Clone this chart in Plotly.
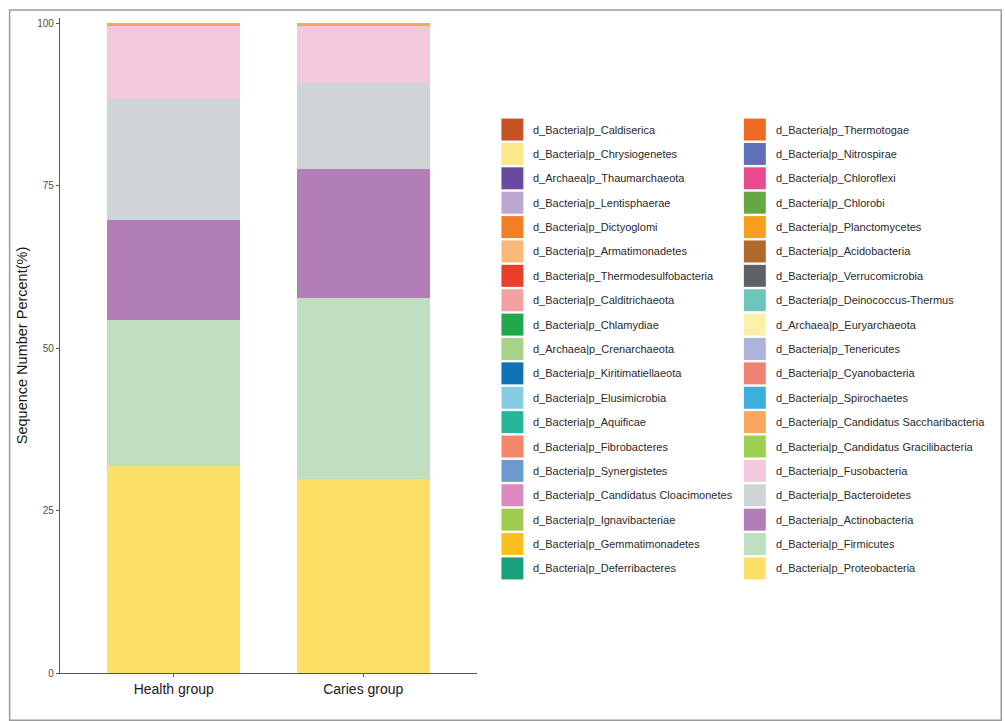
import plotly.graph_objects as go

groups = ["Health group", "Caries group"]

# Legend order (column-major, 2 columns of 19); stacking goes bottom-up in reverse order
taxa = [
    "d_Bacteria|p_Caldiserica", "d_Bacteria|p_Chrysiogenetes", "d_Archaea|p_Thaumarchaeota",
    "d_Bacteria|p_Lentisphaerae", "d_Bacteria|p_Dictyoglomi", "d_Bacteria|p_Armatimonadetes",
    "d_Bacteria|p_Thermodesulfobacteria", "d_Bacteria|p_Calditrichaeota", "d_Bacteria|p_Chlamydiae",
    "d_Archaea|p_Crenarchaeota", "d_Bacteria|p_Kiritimatiellaeota", "d_Bacteria|p_Elusimicrobia",
    "d_Bacteria|p_Aquificae", "d_Bacteria|p_Fibrobacteres", "d_Bacteria|p_Synergistetes",
    "d_Bacteria|p_Candidatus Cloacimonetes", "d_Bacteria|p_Ignavibacteriae",
    "d_Bacteria|p_Gemmatimonadetes", "d_Bacteria|p_Deferribacteres",
    "d_Bacteria|p_Thermotogae", "d_Bacteria|p_Nitrospirae", "d_Bacteria|p_Chloroflexi",
    "d_Bacteria|p_Chlorobi", "d_Bacteria|p_Planctomycetes", "d_Bacteria|p_Acidobacteria",
    "d_Bacteria|p_Verrucomicrobia", "d_Bacteria|p_Deinococcus-Thermus", "d_Archaea|p_Euryarchaeota",
    "d_Bacteria|p_Tenericutes", "d_Bacteria|p_Cyanobacteria", "d_Bacteria|p_Spirochaetes",
    "d_Bacteria|p_Candidatus Saccharibacteria", "d_Bacteria|p_Candidatus Gracilibacteria",
    "d_Bacteria|p_Fusobacteria", "d_Bacteria|p_Bacteroidetes", "d_Bacteria|p_Actinobacteria",
    "d_Bacteria|p_Firmicutes", "d_Bacteria|p_Proteobacteria",
]

colors = [
    "#C65127", "#FBE88B", "#6A4AA0", "#BBA7CF", "#F07F27", "#F8B87A", "#E8402B", "#F4A1A3",
    "#21A84A", "#A6D28A", "#0F72B3", "#86CCE3", "#27B59A", "#F3866A", "#6D9ACC", "#DB89C0",
    "#A1CB4E", "#FCC01E", "#17A07A",
    "#EE6A24", "#6070B6", "#E84B8F", "#63A845", "#F6A01D", "#B0692B", "#5D6266", "#6CC6BC",
    "#FBF0A8", "#AEB3DC", "#F08474", "#3BAEDB", "#F9A660", "#9ECF4E", "#F2C8DB", "#CFD4D6",
    "#B27EB7", "#BFDFC0", "#FEE066",
]

# Percent values per taxon (same order as taxa); the rarest phyla are too small to see (~0)
health = [
    0, 0, 0, 0, 0, 0, 0, 0, 0, 0, 0, 0, 0, 0, 0, 0, 0, 0, 0,
    0, 0, 0, 0, 0, 0, 0, 0, 0, 0, 0,
    0, 0.26, 0.24, 11.2, 18.7, 15.4, 22.4, 31.9,
]
caries = [
    0, 0, 0, 0, 0, 0, 0, 0, 0, 0, 0, 0, 0, 0, 0, 0, 0, 0, 0,
    0, 0, 0, 0, 0, 0, 0, 0, 0, 0, 0,
    0, 0.27, 0.23, 8.8, 13.3, 19.8, 27.9, 29.8,
]

y_ticks = [0, 25, 50, 75, 100]

W, H = 1005, 721
L, R, T, B = 59.5, 527.5, 18, 48.3
pw, ph = W - L - R, H - T - B


def px(x):
    return (x - L) / pw


def py(y):
    return (H - B - y) / ph


fig = go.Figure()
for i in reversed(range(len(taxa))):
    fig.add_trace(go.Bar(
        x=groups, y=[health[i], caries[i]], name=taxa[i],
        marker=dict(color=colors[i], line=dict(width=0)),
        showlegend=False,
    ))

# Custom two-column legend with large square keys
rows = 19
pitch = 24.37
first_c = 129.5
col_key_x = [502, 745]
col_txt_x = [532, 775]
shapes = []
annotations = []
for i, name in enumerate(taxa):
    col, row = divmod(i, rows)
    cy = first_c + row * pitch
    kx = col_key_x[col]
    shapes.append(dict(type="rect", xref="paper", yref="paper",
                       x0=px(kx), x1=px(kx + 22), y0=py(cy - 11), y1=py(cy + 11),
                       fillcolor=colors[i], line=dict(width=0)))
    annotations.append(dict(xref="paper", yref="paper", x=px(col_txt_x[col]), y=py(cy),
                            text=name, showarrow=False, xanchor="left", yanchor="middle",
                            font=dict(family="Liberation Sans, Arial", size=11, color="#2a2a2a")))

# outer frame
shapes.append(dict(type="rect", xref="paper", yref="paper",
                   x0=px(9), x1=px(1003), y0=py(720), y1=py(10),
                   line=dict(color="#9A9A9A", width=1.5), fillcolor="rgba(0,0,0,0)", layer="below"))

fig.update_layout(
    width=W, height=H, autosize=False,
    margin=dict(l=L, r=R, t=T, b=B, pad=0),
    barmode="stack", bargap=0.3,
    plot_bgcolor="white", paper_bgcolor="white",
    font=dict(family="Liberation Sans, Arial", color="#1a1a1a"),
    shapes=shapes, annotations=annotations,
    xaxis=dict(range=[-0.6, 1.6], showline=True, linecolor="#555555", linewidth=1.3,
               ticks="outside", ticklen=3, tickcolor="#555555", showgrid=False,
               tickfont=dict(size=14, color="#1a1a1a"), zeroline=False),
    yaxis=dict(range=[0, 100.8], tickvals=y_ticks, ticktext=[str(v) for v in y_ticks],
               showline=True, linecolor="#555555", linewidth=1.3,
               ticks="outside", ticklen=3, tickcolor="#555555", showgrid=False,
               zeroline=False, tickfont=dict(size=10, color="#4d4d4d"),
               title=dict(text="Sequence Number Percent(%)", standoff=6,
                          font=dict(size=14.5, color="#1a1a1a"))),
)

fig.write_html("out.html")
